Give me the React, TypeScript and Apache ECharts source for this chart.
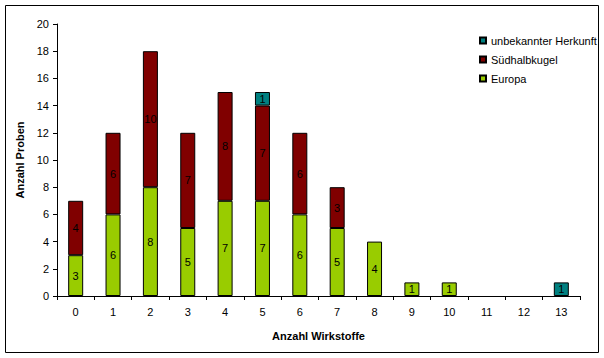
import React, { useEffect, useRef } from "react";
import * as echarts from "echarts";

const categories = ["0", "1", "2", "3", "4", "5", "6", "7", "8", "9", "10", "11", "12", "13"];
const europa = [3, 6, 8, 5, 7, 7, 6, 5, 4, 1, 1, 0, 0, 0];
const suedhalbkugel = [4, 6, 10, 7, 8, 7, 6, 3, 0, 0, 0, 0, 0, 0];
const unbekannt = [0, 0, 0, 0, 0, 1, 0, 0, 0, 0, 0, 0, 0, 1];
const yTicks = { min: 0, max: 20, interval: 2 };

const FONT = "'Liberation Sans', Arial, sans-serif";

export default function App() {
  const ref = useRef<HTMLDivElement>(null);
  useEffect(() => {
    if (!ref.current) return;
    const chart = echarts.init(ref.current, undefined, { renderer: "svg" });
    const mk = (name: string, data: number[], color: string) => ({
      name,
      type: "bar",
      stack: "total",
      barWidth: 15,
      data: data.map((v) => (v === 0 ? "-" : v)),
      itemStyle: { color, borderColor: "#000", borderWidth: 1 },
      label: {
        show: true,
        position: "inside",
        color: "#000",
        fontFamily: FONT,
        fontSize: 11,
      },
    });
    chart.setOption({
      animation: false,
      textStyle: { fontFamily: FONT },
      graphic: [
        {
          type: "rect",
          shape: { x: 5.5, y: 5.5, width: 593, height: 347 },
          style: { fill: "none", stroke: "#000", lineWidth: 1 },
          silent: true,
        },
      ],
      legend: {
        orient: "vertical",
        left: 474,
        top: 30,
        itemWidth: 6,
        itemHeight: 6,
        itemGap: 8,
        icon: "rect",
        data: ["unbekannter Herkunft", "Südhalbkugel", "Europa"],
        textStyle: { fontFamily: FONT, fontSize: 11, color: "#000" },
      },
      grid: { left: 57, right: 24, top: 24, bottom: 62, containLabel: false },
      xAxis: {
        type: "category",
        data: categories,
        name: "Anzahl Wirkstoffe",
        nameLocation: "middle",
        nameGap: 34,
        nameTextStyle: { fontFamily: FONT, fontSize: 11, fontWeight: "bold", color: "#000" },
        axisLine: { lineStyle: { color: "#000", width: 1 } },
        axisTick: { show: true, interval: 0, alignWithLabel: false, length: 4, lineStyle: { color: "#000" } },
        axisLabel: { color: "#000", fontSize: 11, fontFamily: FONT, margin: 10, interval: 0 },
        splitLine: { show: false },
      },
      yAxis: {
        type: "value",
        min: yTicks.min,
        max: yTicks.max,
        interval: yTicks.interval,
        name: "Anzahl Proben",
        nameLocation: "middle",
        nameGap: 31,
        nameTextStyle: { fontFamily: FONT, fontSize: 11, fontWeight: "bold", color: "#000" },
        axisLine: { show: true, lineStyle: { color: "#000", width: 1 } },
        axisTick: { show: true, length: 4, lineStyle: { color: "#000" } },
        axisLabel: { color: "#000", fontSize: 11, fontFamily: FONT, margin: 8 },
        splitLine: { show: false },
      },
      series: [
        mk("Europa", europa, "#99CC00"),
        mk("Südhalbkugel", suedhalbkugel, "#800000"),
        mk("unbekannter Herkunft", unbekannt, "#008080"),
      ],
    });
    return () => chart.dispose();
  }, []);
  return <div ref={ref} style={{ width: 604, height: 358, position: "absolute", left: 0, top: 0 }} />;
}
